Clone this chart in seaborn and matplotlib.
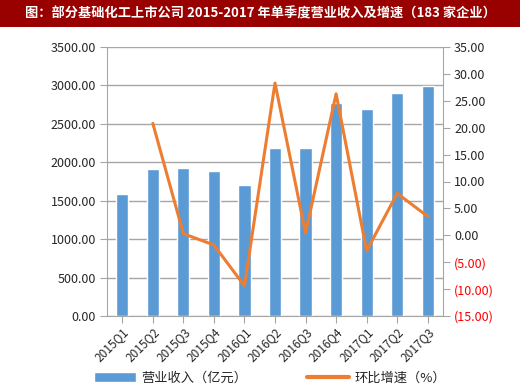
import numpy as np
import pandas as pd
import seaborn as sns
import matplotlib.pyplot as plt
from matplotlib.patches import Rectangle
from matplotlib.lines import Line2D

quarters = ["2015Q1", "2015Q2", "2015Q3", "2015Q4", "2016Q1", "2016Q2",
            "2016Q3", "2016Q4", "2017Q1", "2017Q2", "2017Q3"]
revenue = [1590, 1915, 1922, 1887, 1705, 2188, 2192, 2768, 2690, 2897, 2998]
growth = [np.nan, 20.8, 0.3, -1.8, -9.4, 28.3, 0.4, 26.3, -2.9, 7.8, 3.5]

df = pd.DataFrame({"quarter": quarters, "revenue": revenue, "growth": growth})

sns.set_style("white")
plt.rcParams['font.family'] = ['Noto Sans CJK SC', 'DejaVu Sans']

bar_color = "#5B9BD5"
line_color = "#ED7D31"
grid_color = "#A6A6A6"

fig = plt.figure(figsize=(5.2, 3.92), dpi=100)
fig.patch.set_facecolor("white")

# red title band
fig.patches.append(Rectangle((0, 1 - 27 / 392), 1, 27 / 392, transform=fig.transFigure,
                             facecolor="#990000", edgecolor="none", zorder=0))
fig.text(25 / 520, 1 - 13 / 392,
         "图：部分基础化工上市公司 2015-2017 年单季度营业收入及增速（183 家企业）",
         color="white", fontsize=9.5, fontweight="bold", va="center", ha="left")

ax = fig.add_axes([107 / 520, 1 - 316 / 392, 336 / 520, 269 / 392])
sns.barplot(data=df, x="quarter", y="revenue", color=bar_color, width=0.4,
            saturation=1, ax=ax, zorder=3)
ax.set_xlim(-0.5, 10.5)
ax.set_ylim(0, 3500)
ax.set_yticks(np.arange(0, 3501, 500))
ax.set_yticklabels([f"{v:.2f}" for v in np.arange(0, 3501, 500)], fontsize=9)
ax.set_xlabel("")
ax.set_ylabel("")
ax.set_xticks(range(len(quarters)))
ax.set_xticklabels(quarters, rotation=45, ha="right", rotation_mode="anchor", fontsize=8.5)
ax.yaxis.grid(True, color=grid_color, linewidth=1)
ax.set_axisbelow(True)
for s in ["top", "right"]:
    ax.spines[s].set_visible(False)
ax.spines["left"].set_color(grid_color)
ax.spines["bottom"].set_color(grid_color)
ax.tick_params(axis="y", length=5, color=grid_color, left=True, pad=3)
ax.tick_params(axis="x", length=5, color=grid_color, bottom=True, pad=2)

ax2 = ax.twinx()
sns.lineplot(x=np.arange(len(quarters)), y=growth, color=line_color, linewidth=2.2, ax=ax2)
ax2.set_ylim(-15, 35)
rt = np.arange(-15, 36, 5)
ax2.set_yticks(rt)
labels = ax2.set_yticklabels([f"({abs(v):.2f})" if v < 0 else f"{v:.2f}" for v in rt], fontsize=9)
for lab, v in zip(labels, rt):
    if v < 0:
        lab.set_color("#FF0000")
for s in ["top", "left", "bottom"]:
    ax2.spines[s].set_visible(False)
ax2.spines["right"].set_color(grid_color)
ax2.tick_params(axis="y", length=5, color=grid_color, right=True, pad=3)
ax2.set_xlim(-0.5, 10.5)

handles = [Rectangle((0, 0), 1, 1, facecolor=bar_color),
           Line2D([0], [0], color=line_color, linewidth=3)]
fig.legend(handles, ["营业收入（亿元）", "环比增速（%）"], loc="center",
           bbox_to_anchor=(270 / 520, 1 - 378 / 392), ncol=2, frameon=False,
           fontsize=9.5, handlelength=3.2, columnspacing=4.5, handletextpad=0.4)

plt.savefig("out.png", dpi=100)
